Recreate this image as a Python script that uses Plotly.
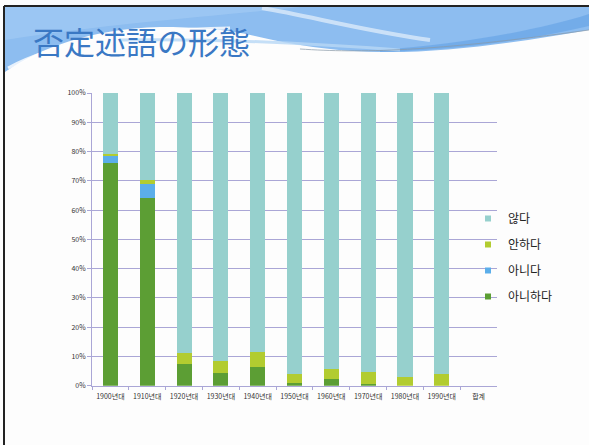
import plotly.graph_objects as go

# Decades and share (%) of each negative-predicate form
decades = ["1900년대", "1910년대", "1920년대", "1930년대", "1940년대",
           "1950년대", "1960년대", "1970년대", "1980년대", "1990년대", "합계"]
anihada = [76.0, 64.0, 7.5, 4.2, 6.5, 1.0, 2.3, 0.5, 0.0, 0.0, None]
anida = [2.5, 5.0, 0.0, 0.0, 0.0, 0.0, 0.0, 0.0, 0.0, 0.0, None]
anhada = [0.7, 1.2, 3.7, 4.3, 5.0, 3.0, 3.4, 4.2, 3.1, 3.9, None]
anta = [20.8, 29.8, 88.8, 91.5, 88.5, 96.0, 94.3, 95.3, 96.9, 96.1, None]

y_ticks = [0, 10, 20, 30, 40, 50, 60, 70, 80, 90, 100]

series = [
    ("아니하다", anihada, "#5c9e34"),
    ("아니다", anida, "#5baeea"),
    ("안하다", anhada, "#b2cc30"),
    ("않다", anta, "#96d0cd"),
]

W, H = 589, 445


def px(x, y):
    return x / W, 1 - y / H


def path(points_cmd):
    # converts a list of (cmd, [(x,y),...]) in pixels to a paper-space svg path
    out = []
    for cmd, pts in points_cmd:
        coords = " ".join(f"{px(x, y)[0]:.4f},{px(x, y)[1]:.4f}" for x, y in pts)
        out.append(f"{cmd}{coords}")
    return " ".join(out)


fig = go.Figure()
for name, vals, color in series:
    fig.add_trace(go.Bar(
        x=decades, y=vals, name=name, marker_color=color,
        marker_line_width=0, showlegend=False,
    ))
# compact square legend keys, top of the stack listed first
for i, (name, vals, color) in enumerate(reversed(series)):
    fig.add_trace(go.Scatter(
        x=[None], y=[None], mode="markers", name=name,
        marker=dict(symbol="square", size=6, color=color),
        legendgroup=f"g{i}",
    ))

shapes = []
# header wave: broad blue band
shapes.append(dict(type="path", xref="paper", yref="paper", layer="below",
                   path=path([("M", [(5, 7)]), ("L", [(589, 7)]), ("L", [(589, 30)]),
                              ("C", [(520, 42), (450, 52), (390, 52)]),
                              ("C", [(330, 52), (290, 44), (255, 36)]),
                              ("C", [(225, 29), (195, 27), (160, 27)]),
                              ("C", [(90, 29), (40, 48), (5, 72)]), ("Z", [])]),
                   fillcolor="#8dbdf0", line_width=0))
# lighter wash across the upper left
shapes.append(dict(type="path", xref="paper", yref="paper", layer="below",
                   path=path([("M", [(5, 7)]), ("L", [(300, 7)]),
                              ("C", [(220, 16), (120, 22), (5, 40)]), ("Z", [])]),
                   fillcolor="#a9d0f6", opacity=0.5, line_width=0))
# darker streak on the right
shapes.append(dict(type="path", xref="paper", yref="paper", layer="below",
                   path=path([("M", [(380, 50)]),
                              ("C", [(460, 44), (540, 30), (589, 14)]),
                              ("L", [(589, 26)]),
                              ("C", [(530, 40), (460, 50), (380, 52)]), ("Z", [])]),
                   fillcolor="#5f9fe4", opacity=0.55, line_width=0))
# white swooshes
shapes.append(dict(type="path", xref="paper", yref="paper", layer="below",
                   path=path([("M", [(262, 8)]), ("C", [(310, 16), (360, 30), (430, 40)])]),
                   line=dict(color="white", width=4), opacity=0.55))
shapes.append(dict(type="path", xref="paper", yref="paper", layer="below",
                   path=path([("M", [(8, 68)]), ("C", [(50, 45), (120, 30), (230, 28)])]),
                   line=dict(color="white", width=3), opacity=0.8))
# faint light-blue streak under the title line
shapes.append(dict(type="path", xref="paper", yref="paper", layer="below",
                   path=path([("M", [(120, 40)]), ("C", [(220, 38), (320, 44), (400, 50)])]),
                   line=dict(color="#b8d8f6", width=3), opacity=0.8))
# thin grey edge under the wave
shapes.append(dict(type="path", xref="paper", yref="paper", layer="below",
                   path=path([("M", [(300, 49)]), ("C", [(360, 53), (430, 52), (589, 30)])]),
                   line=dict(color="#8a9aa8", width=1), opacity=0.7))
# slide frame
shapes.append(dict(type="line", xref="paper", yref="paper", layer="above",
                   x0=px(4, 6)[0], y0=px(4, 6)[1], x1=1, y1=px(589, 6)[1],
                   line=dict(color="#222222", width=2)))
shapes.append(dict(type="line", xref="paper", yref="paper", layer="above",
                   x0=px(4, 6)[0], y0=px(4, 6)[1], x1=px(4, 445)[0], y1=0,
                   line=dict(color="#222222", width=2)))

grid = "#aaa6d6"
fig.update_layout(
    width=W, height=H,
    margin=dict(l=0, r=0, t=0, b=0),
    paper_bgcolor="#fdfdfd", plot_bgcolor="rgba(0,0,0,0)",
    barmode="stack", bargap=0.59,
    shapes=shapes,
    font=dict(family="Noto Sans CJK KR, Noto Sans", color="#333333"),
    xaxis=dict(domain=[92 / W, 497 / W], type="category", automargin=False,
               showgrid=False, showline=True, linecolor=grid, linewidth=1,
               ticks="outside", tickson="boundaries", ticklen=3, tickcolor=grid,
               tickangle=0, ticklabelstandoff=4,
               tickfont=dict(size=7, color="#333333")),
    yaxis=dict(domain=[1 - 385.7 / H, 1 - 93 / H], range=[0, 100], automargin=False,
               tickmode="array", tickvals=y_ticks,
               ticktext=[f"{v}%" for v in y_ticks],
               showgrid=True, gridcolor=grid, gridwidth=1,
               showline=True, linecolor=grid, linewidth=1, zeroline=False,
               ticks="outside", ticklen=4, tickcolor=grid,
               tickfont=dict(size=7, color="#333333")),
    legend=dict(x=468 / W, y=1 - 204 / H, xanchor="left", yanchor="top",
                traceorder="grouped", tracegroupgap=7, itemwidth=30,
                bgcolor="rgba(0,0,0,0)", font=dict(size=12, color="#222222")),
    annotations=[dict(text="否定述語の形態", xref="paper", yref="paper",
                      x=px(31, 41)[0], y=px(31, 41)[1], xanchor="left", yanchor="middle",
                      showarrow=False,
                      font=dict(family="Noto Sans CJK JP", size=31, color="#3a78c4"))],
)

fig.write_html("out.html")
